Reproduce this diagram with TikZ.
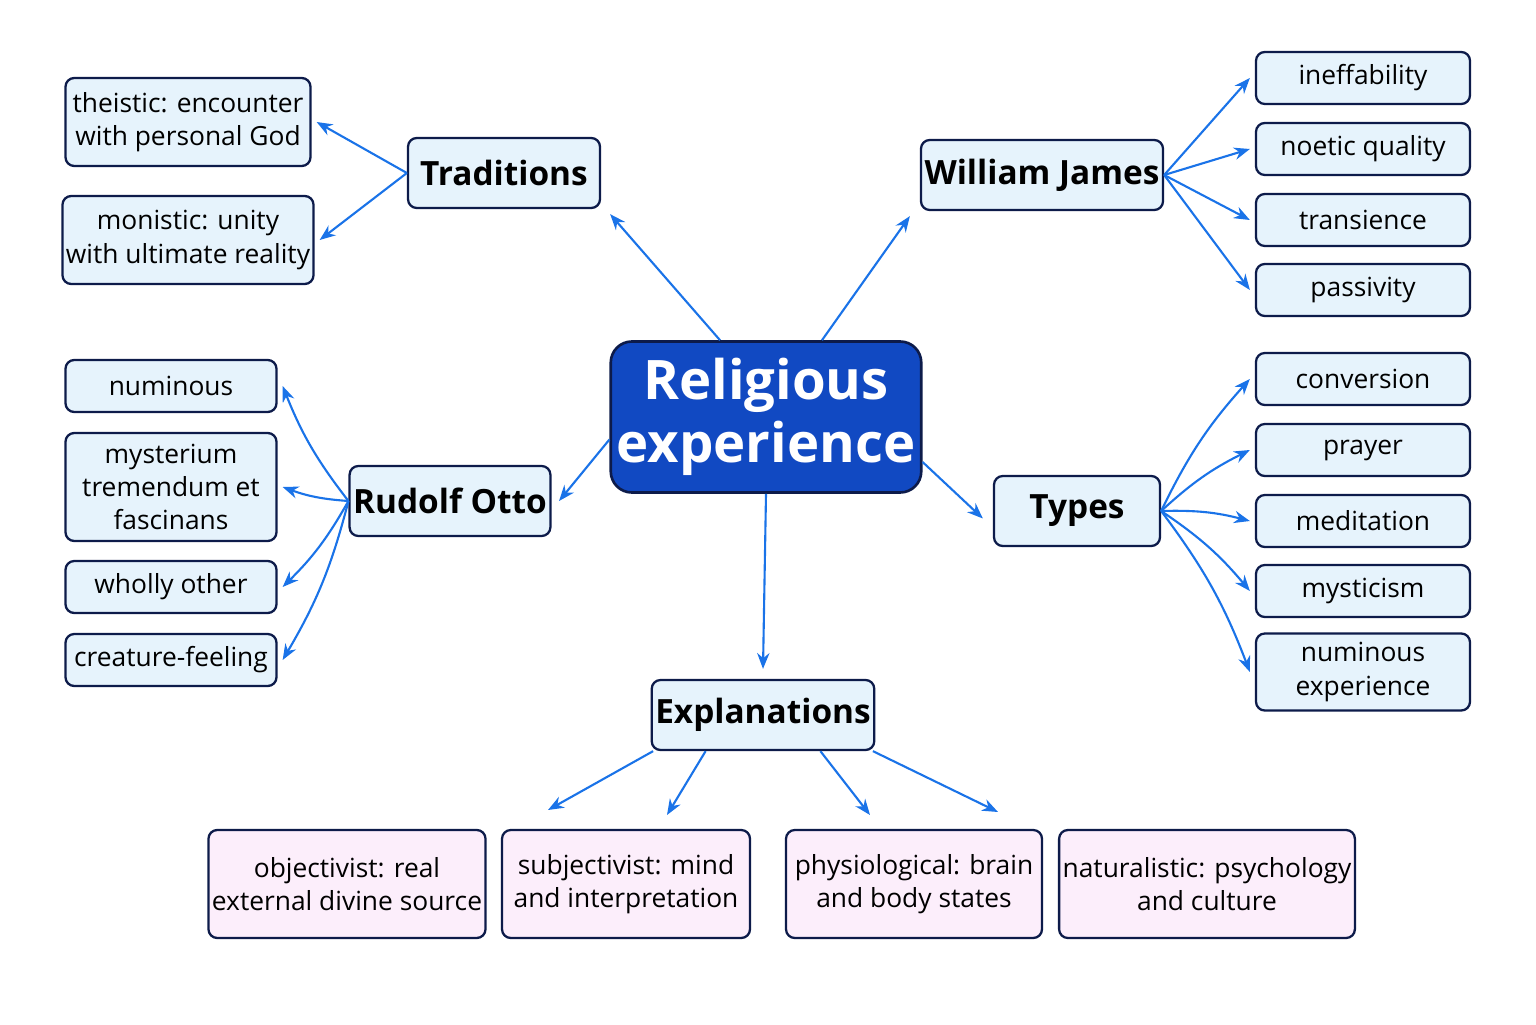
\documentclass[tikz,border=0pt]{standalone}
\usepackage{fontspec}
\setmainfont{Open Sans}
\usetikzlibrary{arrows.meta}
\definecolor{edge}{HTML}{1A73E8}
\definecolor{boxline}{HTML}{0D1B4A}
\definecolor{leaffill}{HTML}{E6F3FC}
\definecolor{pinkfill}{HTML}{FCEEFB}
\definecolor{mainfill}{HTML}{1149C2}
\tikzset{
  leaf/.style={draw=boxline,line width=1.3pt,rounded corners=5pt,fill=leaffill,align=center,font=\fontsize{15}{19}\selectfont,inner sep=2pt},
  branch/.style={leaf,font=\fontsize{19}{23}\selectfont\bfseries,minimum height=1.4cm},
  expl/.style={leaf,fill=pinkfill,minimum height=2.16cm},
  link/.style={draw=edge,line width=1.2pt,-{Stealth[length=9pt,width=7pt]}}
}
\begin{document}
\begin{tikzpicture}
\useasboundingbox (0,0) rectangle (30.72,20.48);
\node[draw=boxline,line width=1.5pt,rounded corners=12pt,fill=mainfill,text=white,align=center,font=\fontsize{31}{36}\selectfont\bfseries,minimum width=5.86cm,minimum height=3.02cm] (main) at (15.32,12.14) {Religious\\experience};
\node[branch,minimum width=3.84cm] (trad) at (10.08,17.02) {Traditions};
\node[branch,minimum width=4.32cm] (james) at (20.84,16.98) {William James};
\node[branch,minimum width=3.34cm] (otto) at (9.0,10.46) {Rudolf Otto};
\node[branch,minimum width=3.32cm] (types) at (21.54,10.26) {Types};
\node[branch,minimum width=4.02cm] (expl) at (15.26,6.18) {Explanations};
% traditions
\node[leaf,minimum width=4.9cm,minimum height=1.76cm] (theistic) at (3.76,18.04) {theistic: encounter\\with personal God};
\node[leaf,minimum width=4.9cm,minimum height=1.76cm] (monistic) at (3.76,15.68) {monistic: unity\\with ultimate reality};
% otto
\node[leaf,minimum width=4.22cm,minimum height=1.04cm] (numinous) at (3.42,12.76) {numinous};
\node[leaf,minimum width=4.22cm,minimum height=2.16cm] (myst) at (3.42,10.74) {mysterium\\tremendum et\\fascinans};
\node[leaf,minimum width=4.22cm,minimum height=1.04cm] (wholly) at (3.42,8.74) {wholly other};
\node[leaf,minimum width=4.22cm,minimum height=1.04cm] (creature) at (3.42,7.28) {creature-feeling};
% james
\node[leaf,minimum width=4.28cm,minimum height=1.04cm] (ineff) at (27.26,18.92) {ineffability};
\node[leaf,minimum width=4.28cm,minimum height=1.04cm] (noetic) at (27.26,17.5) {noetic quality};
\node[leaf,minimum width=4.28cm,minimum height=1.04cm] (trans) at (27.26,16.08) {transience};
\node[leaf,minimum width=4.28cm,minimum height=1.04cm] (passiv) at (27.26,14.68) {passivity};
% types
\node[leaf,minimum width=4.28cm,minimum height=1.04cm] (conv) at (27.26,12.9) {conversion};
\node[leaf,minimum width=4.28cm,minimum height=1.04cm] (prayer) at (27.26,11.48) {prayer};
\node[leaf,minimum width=4.28cm,minimum height=1.04cm] (medit) at (27.26,10.06) {meditation};
\node[leaf,minimum width=4.28cm,minimum height=1.04cm] (mystic) at (27.26,8.66) {mysticism};
\node[leaf,minimum width=4.28cm,minimum height=1.54cm] (numexp) at (27.26,7.04) {numinous\\experience};
% explanations
\node[expl,minimum width=5.32cm] (obj) at (6.94,2.8) {objectivist: real\\external divine source};
\node[expl,minimum width=4.96cm] (subj) at (12.52,2.8) {subjectivist: mind\\and interpretation};
\node[expl,minimum width=5.12cm] (phys) at (18.28,2.8) {physiological: brain\\and body states};
\node[expl,minimum width=5.06cm] (nat) at (24.14,2.8) {naturalistic: psychology\\and culture};
\coordinate (e1) at (10.96,4.28);
\coordinate (e2) at (13.34,4.18);
\coordinate (e3) at (17.4,4.18);
\coordinate (e4) at (19.96,4.24);
% links
\draw[link] ([xshift=-0.92cm]main.north) -- ([xshift=0.18cm,yshift=-0.1cm]trad.south east);
\draw[link] ([xshift=1.12cm]main.north) -- ([xshift=-0.2cm,yshift=-0.1cm]james.south west);
\draw[link] ([yshift=-0.45cm]main.west) -- ([xshift=0.15cm]otto.east);
\draw[link] ([yshift=-0.9cm]main.east) -- ([xshift=-0.2cm,yshift=-0.15cm]types.west);
\draw[link] (main.south) -- ([yshift=0.2cm]expl.north);
\foreach \t in {theistic,monistic} \draw[link] (trad.west) -- ([xshift=0.1cm]\t.east);
\foreach \t in {numinous,myst,wholly,creature} \draw[link] (otto.west) to[bend left=8] ([xshift=0.1cm]\t.east);
\foreach \t in {ineff,noetic,trans,passiv} \draw[link] (james.east) -- ([xshift=-0.1cm]\t.west);
\foreach \t in {conv,prayer,medit,mystic,numexp} \draw[link] (types.east) to[bend left=8] ([xshift=-0.1cm]\t.west);
\draw[link] ([xshift=0.05cm]expl.south west) -- (e1);
\draw[link] ([xshift=1.1cm]expl.south west) -- (e2);
\draw[link] ([xshift=-1.1cm]expl.south east) -- (e3);
\draw[link] ([xshift=-0.05cm]expl.south east) -- (e4);
\end{tikzpicture}
\end{document}
